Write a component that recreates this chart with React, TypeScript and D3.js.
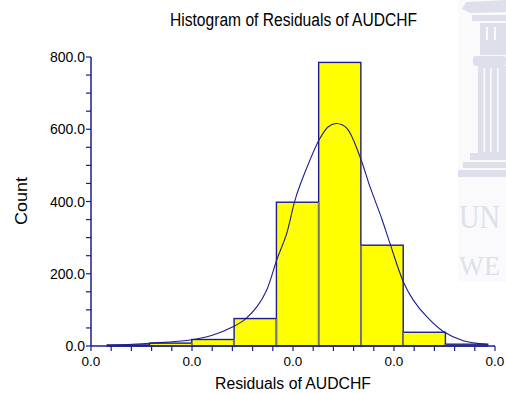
import React from "react";
import * as d3 from "d3";

// Histogram bins (residual value edges) and counts
const binEdges = [-0.01839, -0.0142, -0.01002, -0.00583, -0.00164, 0.00254, 0.00672, 0.01091, 0.01509, 0.01928];
const binCounts = [3, 8, 18, 76, 398, 785, 279, 38, 5];

// Fitted density curve, sampled points (residual, count scale)
const curveX = [-0.01842, -0.01416, -0.0102, -0.00792, -0.00594, -0.00475, -0.00356, -0.0026, -0.00161, -0.00062, 0.0002, 0.00102, 0.00267, 0.0035, 0.00433, 0.00532, 0.00663, 0.00762, 0.00878, 0.0096, 0.01092, 0.01191, 0.01324, 0.01488, 0.01686, 0.01918];
const curveY = [0.8, 7.5, 16.6, 30.4, 53.4, 73.9, 108.8, 155, 238, 312, 404, 469, 575, 607, 616, 603, 524, 441, 353, 284, 178, 127, 81, 40, 14.7, 4.7];

// Axis ticks
const xTickValues = [-0.02, -0.01, 0, 0.01, 0.02];
const xTickLabels = ["0.0", "0.0", "0.0", "0.0", "0.0"];
const yTickValues = [0, 200, 400, 600, 800];
const yTickLabels = ["0.0", "200.0", "400.0", "600.0", "800.0"];

const TITLE = "Histogram of Residuals of AUDCHF";
const X_TITLE = "Residuals of AUDCHF";
const Y_TITLE = "Count";

const W = 506;
const H = 393;
const NAVY = "#1c1c8e";
const GRAY = "#7a7a7a";
const FONT = "'Liberation Sans', Arial, Helvetica, sans-serif";
const SERIF = "'Liberation Serif', 'DejaVu Serif', serif";
const MARK = "#dde0ea";
const PAPER = "#fafafc";

function Watermark() {
  return (
    <g>
      <rect x={458} y={0} width={48} height={282} fill={PAPER} />
      {/* cornice */}
      <polygon points="466,2 506,0 506,12 470,13 462,9" fill={MARK} />
      <rect x={472} y={15} width={34} height={6} fill={MARK} />
      {/* capital */}
      <rect x={480} y={23} width={26} height={32} fill={MARK} />
      <rect x={486} y={27} width={2} height={13} fill={PAPER} />
      <rect x={494} y={27} width={2} height={13} fill={PAPER} />
      <rect x={473} y={56} width={33} height={10} rx={3} fill={MARK} />
      {/* shaft */}
      <rect x={478} y={66} width={28} height={88} fill={MARK} />
      <rect x={483.5} y={68} width={1.6} height={84} fill={PAPER} />
      <rect x={490} y={68} width={1.6} height={84} fill={PAPER} />
      <rect x={497} y={68} width={1.6} height={84} fill={PAPER} />
      {/* base steps */}
      <rect x={470} y={153} width={36} height={7} fill={MARK} />
      <rect x={463} y={162} width={43} height={6} fill={MARK} />
      <rect x={458} y={170} width={48} height={7} fill={MARK} />
      <text x={459} y={228} fontFamily={SERIF} fontSize={33} fill={MARK} textLength={41} lengthAdjust="spacingAndGlyphs">
        UN
      </text>
      <text x={459} y={275} fontFamily={SERIF} fontSize={27} fill={MARK} textLength={41} lengthAdjust="spacingAndGlyphs">
        WE
      </text>
    </g>
  );
}

export default function App() {
  const x = d3.scaleLinear().domain([-0.02, 0.02]).range([91, 495]);
  const y = d3.scaleLinear().domain([0, 800]).range([346, 57]);

  const bars = binCounts.map((c, i) => ({ x0: binEdges[i], x1: binEdges[i + 1], count: c }));

  const line = d3
    .line<number>()
    .x((_, i) => x(curveX[i]))
    .y((d) => y(d))
    .curve(d3.curveCatmullRom.alpha(0.5));

  const xMinor = d3.range(0, 21).map((i) => -0.02 + i * 0.002);
  const yMinor = d3.range(0, 17).map((i) => i * 50);

  // shared edges between neighbouring bars, up to the shorter one
  const shared = bars.slice(1).map((b, i) => ({ xv: b.x0, h: Math.min(b.count, bars[i].count) }));

  return (
    <svg width={W} height={H} style={{ position: "absolute", left: 0, top: 0, display: "block", background: "#fff" }}>
      <Watermark />

      <text x={170} y={26} fontFamily={FONT} fontSize={18} textLength={247} lengthAdjust="spacingAndGlyphs" fill="#000">
        {TITLE}
      </text>

      {/* bars */}
      {bars.map((b, i) => (
        <rect
          key={i}
          x={x(b.x0)}
          y={y(b.count)}
          width={x(b.x1) - x(b.x0)}
          height={y(0) - y(b.count)}
          fill="#ffff00"
          stroke={NAVY}
          strokeWidth={1.4}
        />
      ))}
      {shared.map((s, i) => (
        <line key={i} x1={x(s.xv)} x2={x(s.xv)} y1={y(0)} y2={y(s.h)} stroke={GRAY} strokeWidth={1.6} />
      ))}

      {/* density curve */}
      <path d={line(curveY) || ""} fill="none" stroke={NAVY} strokeWidth={1.1} />

      {/* y axis */}
      <line x1={91} x2={91} y1={y(800)} y2={y(0)} stroke={NAVY} strokeWidth={1.5} />
      {yMinor.map((v) => (
        <line key={v} x1={86} x2={91} y1={y(v)} y2={y(v)} stroke={NAVY} strokeWidth={1.2} />
      ))}
      {yTickValues.map((v, i) => (
        <text key={v} x={85} y={y(v)} dy="0.36em" textAnchor="end" fontFamily={FONT} fontSize={14} fill="#000">
          {yTickLabels[i]}
        </text>
      ))}

      {/* x axis */}
      <line x1={x(-0.02)} x2={x(0.02)} y1={346} y2={346} stroke={NAVY} strokeWidth={1.5} />
      {xMinor.map((v, i) => (
        <line key={i} x1={x(v)} x2={x(v)} y1={346} y2={351} stroke={NAVY} strokeWidth={1.2} />
      ))}
      {xTickValues.map((v, i) => (
        <text key={i} x={x(v)} y={366} textAnchor="middle" fontFamily={FONT} fontSize={13.5} fill="#000">
          {xTickLabels[i]}
        </text>
      ))}

      <text x={215} y={389} fontFamily={FONT} fontSize={16} textLength={156} lengthAdjust="spacingAndGlyphs" fill="#000">
        {X_TITLE}
      </text>
      <text transform="translate(27,225) rotate(-90)" fontFamily={FONT} fontSize={16} textLength={48} lengthAdjust="spacingAndGlyphs" fill="#000">
        {Y_TITLE}
      </text>
    </svg>
  );
}
